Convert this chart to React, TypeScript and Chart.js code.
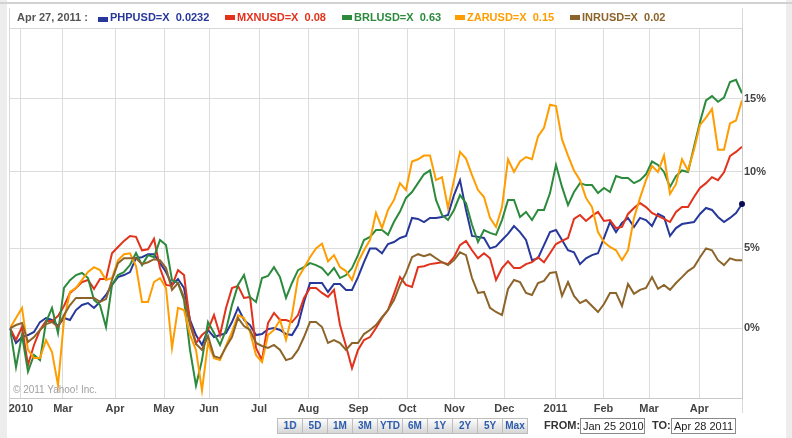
import React, { useEffect, useRef } from "react";
import { Chart, registerables } from "chart.js";

Chart.register(...registerables);

// Month ticks, in sample-index units along the x axis
const monthTickPos = [1.83, 8.83, 17.5, 25.67, 33.17, 41.5, 49.75, 58.08, 66.22, 74.08, 82.38, 90.92, 98.92, 106.5, 114.88];
const monthTickLabels = ["2010", "Mar", "Apr", "May", "Jun", "Jul", "Aug", "Sep", "Oct", "Nov", "Dec", "2011", "Feb", "Mar", "Apr"];

// Percent-change ticks (right axis)
const yTickPct = [0, 5, 10, 15];
const yTickLabels = ["0%", "5%", "10%", "15%"];

// Series: % change since Jan 25 2010, sampled evenly across the period
const phpusd = [
  0, -0.89, -0.53, -0.41, -0.22, 0.38, 0.63, 0.51, 0.14, 0.63,
  0.51, 1.12, 1.43, 1.55, 1.25, 1.62, 2.05, 2.68, 3.17, 3.30,
  3.49, 4.38, 4.43, 4.62, 4.62, 4.05, 3.49, 2.68, 3.05, 2.49,
  0.51, -0.41, -1.01, -0.1, -0.53, -0.41, -0.29, 0.38, 1.25, 0.51,
  0.2, -0.41, -0.35, -0.05, 0.02, -0.1, -0.35, -0.41, 0.2, 1.62,
  2.80, 2.80, 2.80, 2.24, 2.74, 2.74, 2.37, 2.37, 3.17, 4.11,
  4.99, 4.99, 4.68, 5.27, 5.40, 5.66, 5.79, 6.96, 6.89, 6.69,
  6.96, 6.96, 7.02, 7.15, 8.46, 9.45, 7.48, 5.79, 5.73, 5.66,
  4.99, 5.12, 5.53, 5.92, 6.43, 6.04, 5.53, 4.24, 4.36, 5.20,
  6.04, 6.17, 5.53, 4.87, 4.74, 3.99, 4.36, 4.56, 4.68, 5.66,
  6.69, 6.04, 6.63, 6.96, 6.37, 6.96, 6.82, 6.43, 7.22, 7.02,
  5.79, 6.30, 6.56, 6.63, 6.69, 7.22, 7.61, 7.48, 7.02, 6.69,
  6.96, 7.28, 7.87,
];

const mxnusd = [
  0, -0.71, 0.08, -2.21, -1.01, -0.1, 0.44, 0.44, 0.75, 1.37,
  2.18, 2.49, 2.86, 2.99, 2.43, 3.05, 3.05, 4.68, 5.08, 5.47,
  5.79, 5.73, 4.87, 4.93, 5.60, 3.74, 2.68, 2.62, 3.61, 3.30,
  0.38, -0.89, -0.41, -0.1, 0.81, -0.41, 1.25, 2.49, 2.62, 1.87,
  1.93, -1.19, -1.92, 0.32, 0.94, 0.51, 0.51, 0.38, 0.81, 1.87,
  2.49, 2.49, 2.18, 1.93, 2.37, 0.2, -1.07, -2.4, -1.31, -0.71,
  -0.53, 0.02, 0.63, 1.12, 2.12, 3.17, 2.68, 2.55, 3.80, 3.86,
  3.99, 4.05, 4.11, 3.99, 4.43, 5.20, 5.47, 4.87, 4.36, 4.68,
  4.36, 2.99, 3.74, 4.17, 3.74, 3.74, 3.99, 4.11, 4.43, 4.11,
  4.68, 5.27, 5.47, 5.66, 6.89, 7.15, 6.76, 7.09, 7.35, 6.76,
  6.82, 6.30, 6.37, 7.22, 7.61, 7.93, 7.67, 7.28, 7.09, 6.89,
  6.69, 7.35, 7.67, 7.67, 8.33, 8.93, 9.25, 9.65, 9.45, 9.97,
  11.07, 11.35, 11.7,
];

const brlusd = [
  0, -2.33, -0.41, -2.6, -1.61, -1.92, 0.38, 1.25, -0.29, 2.49,
  2.98, 3.30, 3.43, 3.11, 1.74, 1.43, 0.08, 2.68, 3.30, 3.49,
  3.93, 4.69, 3.93, 4.56, 4.43, 5.53, 5.21, 2.98, 2.80, 1.74,
  -1.31, -3.43, -1.92, 0.38, -0.29, -1.01, -0.1, 1.44, 2.68, 3.30,
  1.93, 1.62, 3.11, 3.24, 3.80, 3.17, 1.87, 2.80, 3.61, 3.80,
  4.05, 3.93, 3.74, 3.30, 3.74, 3.11, 3.30, 3.74, 4.56, 5.53,
  5.73, 6.17, 6.17, 5.86, 6.71, 7.37, 8.27, 8.66, 9.25, 9.84,
  10.1, 8.14, 7.15, 6.82, 7.48, 8.46, 7.93, 6.51, 5.40, 6.17,
  5.99, 5.86, 6.82, 8.14, 8.14, 7.02, 7.35, 6.82, 7.48, 7.48,
  8.59, 10.47, 9.0, 7.8, 8.66, 9.25, 9.12, 9.12, 8.59, 8.93,
  8.66, 9.72, 9.59, 9.59, 9.25, 9.45, 9.84, 10.7, 10.47, 10.0,
  9.0, 9.72, 10.1, 10.0, 11.7, 13.4, 14.9, 15.2, 14.8, 15.1,
  16.2, 16.35, 15.4,
];

const zarusd = [
  0, 0.63, 1.25, -1.31, -1.80, -1.80, -0.71, -1.43, -3.40, 0.51,
  2.24, 2.49, 2.99, 3.49, 3.80, 3.61, 2.99, 3.11, 4.24, 4.62,
  4.68, 3.86, 1.62, 1.62, 2.86, 3.11, 2.49, -1.19, 1.25, 1.12,
  -0.41, -1.31, -3.71, -0.89, -1.80, -1.92, -1.07, -0.22, 0.81, 0.63,
  -0.22, -1.62, -2.04, -0.41, -0.1, 0.51, -0.71, 0.81, 3.11, 3.74,
  4.43, 4.99, 5.30, 4.17, 4.56, 3.80, 3.55, 2.99, 4.11, 4.87,
  5.53, 7.28, 6.30, 7.48, 8.14, 9.25, 8.79, 10.7, 10.85, 11.1,
  11.1, 9.45, 9.65, 7.61, 9.45, 11.35, 10.9, 9.78, 8.79, 8.33,
  6.96, 6.37, 7.67, 10.85, 10.0, 10.7, 11.0, 10.85, 12.4, 13.0,
  14.6, 14.5, 12.2, 11.1, 10.1, 9.45, 8.27, 7.67, 6.04, 5.40,
  5.08, 4.87, 4.24, 4.87, 6.96, 8.27, 9.45, 10.4, 10.0, 11.1,
  8.53, 9.18, 10.85, 10.1, 11.5, 13.2, 13.7, 14.3, 11.5, 11.5,
  13.3, 13.5, 14.9,
];

const inrusd = [
  0, 0.2, 0.32, -0.83, -0.53, -0.1, 0.26, 0.38, 0.08, 0.81,
  1.43, 1.87, 1.87, 1.87, 1.87, 1.62, 1.80, 2.99, 4.05, 4.36,
  4.36, 4.36, 3.99, 4.11, 4.30, 4.24, 3.74, 2.37, 2.80, 1.93,
  0.2, -0.95, -1.31, -0.47, -1.68, -1.80, -1.13, -0.53, 0.63, 0.14,
  -0.1, -0.89, -1.07, -1.19, -1.01, -1.31, -1.92, -1.80, -1.31, -0.53,
  0.38, 0.38, 0.08, -0.89, -0.71, -0.89, -1.31, -0.89, -0.89, -0.35,
  -0.1, 0.2, 0.69, 1.12, 1.74, 2.68, 3.43, 4.43, 4.62, 4.49,
  4.62, 4.36, 4.11, 3.93, 4.24, 4.74, 4.56, 3.11, 2.18, 2.24,
  1.25, 1.0, 0.81, 2.43, 2.99, 2.86, 2.18, 2.05, 2.80, 2.93,
  3.43, 3.49, 1.99, 2.86, 1.99, 1.55, 1.74, 1.37, 1.0, 1.49,
  2.18, 2.18, 1.37, 2.74, 2.12, 2.37, 2.49, 3.17, 2.43, 2.68,
  2.37, 2.80, 3.17, 3.55, 3.80, 4.43, 4.99, 4.87, 4.24, 3.93,
  4.36, 4.24, 4.24,
];

const legendDate = "Apr 27, 2011 :";
const seriesNames = ["PHPUSD=X", "MXNUSD=X", "BRLUSD=X", "ZARUSD=X", "INRUSD=X"];
const seriesLast = ["0.0232", "0.08", "0.63", "0.15", "0.02"];
const seriesColors = ["#27389a", "#e2321b", "#2b8a3c", "#ff9d00", "#8c6429"];
const rangeButtons = ["1D", "5D", "1M", "3M", "YTD", "6M", "1Y", "2Y", "5Y", "Max"];
const fromDate = "Jan 25 2010";
const toDate = "Apr 28 2011";

const FONT = '"Liberation Sans", Arial, Helvetica, sans-serif';

export default function App() {
  const canvasRef = useRef<HTMLCanvasElement | null>(null);

  useEffect(() => {
    const canvas = canvasRef.current;
    if (!canvas) return;
    const toPts = (arr: number[]) => arr.map((v, i) => ({ x: i, y: 1 + v / 100 }));
    const all = [phpusd, mxnusd, brlusd, zarusd, inrusd];
    const lastIdx = phpusd.length - 1;
    const mk = (k: number) => ({
      label: seriesNames[k],
      data: toPts(all[k]),
      borderColor: seriesColors[k],
      backgroundColor: seriesColors[k],
      borderWidth: 2,
      pointRadius: k === 0 ? phpusd.map((_, i) => (i === lastIdx ? 3 : 0)) : 0,
      pointBackgroundColor: "#0c0c55",
      pointBorderWidth: 0,
      tension: 0,
      fill: false,
      clip: k === 0 ? false : undefined,
    });
    // first dataset is drawn on top
    const datasets = [mk(4), mk(3), mk(2), mk(1), mk(0)];

    const chart = new Chart(canvas, {
      type: "line",
      data: { datasets },
      options: {
        animation: false,
        responsive: false,
        events: [],
        layout: { padding: { left: 10, top: 29, right: 0, bottom: 0 } },
        plugins: { legend: { display: false }, tooltip: { enabled: false } },
        scales: {
          x: {
            type: "linear",
            min: 0,
            max: phpusd.length - 1,
            bounds: "data",
            afterFit: (s: any) => {
              s.height = 40;
            },
            afterBuildTicks: (s: any) => {
              s.ticks = monthTickPos.map((v) => ({ value: v }));
            },
            grid: { color: "#dcdcdc", lineWidth: 1, drawTicks: false },
            border: { display: true, color: "#c8c8c8", width: 1 },
            ticks: {
              autoSkip: false,
              maxRotation: 0,
              minRotation: 0,
              padding: 4,
              color: "#444",
              font: { family: FONT, size: 11, weight: "bold" },
              callback: (_v: any, i: number) => monthTickLabels[i],
            },
          },
          y: {
            type: "logarithmic",
            position: "right",
            min: 0.95842,
            max: 1.2001,
            bounds: "data",
            afterFit: (s: any) => {
              s.width = 50;
            },
            afterBuildTicks: (s: any) => {
              s.ticks = yTickPct.map((p) => ({ value: 1 + p / 100 }));
            },
            grid: { color: "#dcdcdc", lineWidth: 1, drawTicks: false },
            border: { display: true, color: "#c8c8c8", width: 1 },
            ticks: {
              padding: 2,
              color: "#444",
              font: { family: FONT, size: 11, weight: "bold" },
              callback: (_v: any, i: number) => yTickLabels[i],
            },
          },
        },
      } as any,
    });
    return () => chart.destroy();
  }, []);

  const legendX = [98, 225, 342, 455, 570];
  const btnStyle = (k: number): React.CSSProperties => ({
    position: "absolute",
    left: 277 + 25 * k,
    top: 418,
    width: 26,
    height: 16,
    boxSizing: "border-box",
    border: "1px solid #bdbdbd",
    background: "linear-gradient(#fdfdfd, #d6d6d6)",
    color: "#2d5cac",
    fontWeight: "bold",
    fontSize: 10,
    lineHeight: "14px",
    textAlign: "center",
  });

  return (
    <div
      style={{
        position: "absolute",
        left: 0,
        top: 0,
        width: 792,
        height: 438,
        background: "#fff",
        overflow: "hidden",
        fontFamily: FONT,
      }}
    >
      <div style={{ position: "absolute", left: 0, top: 0, width: 7, height: 438, background: "#ededed" }} />
      <div style={{ position: "absolute", left: 786, top: 0, width: 6, height: 438, background: "#ededed" }} />
      <div style={{ position: "absolute", left: 0, top: 2, width: 792, height: 2, background: "#d2d2d2" }} />
      <div
        style={{
          position: "absolute",
          left: 9,
          top: 8,
          width: 734,
          height: 405,
          boxSizing: "border-box",
          borderLeft: "1px solid #d8d8d8",
          borderRight: "1px solid #d8d8d8",
        }}
      />
      <div style={{ position: "absolute", left: 9, top: 28, width: 734, height: 1, background: "#d8d8d8" }} />

      <canvas
        ref={canvasRef}
        width={792}
        height={438}
        style={{ position: "absolute", left: 0, top: 0, width: 792, height: 438, display: "block" }}
      />

      <div
        style={{
          position: "absolute",
          left: 17,
          top: 12,
          fontSize: 11,
          lineHeight: "11px",
          fontWeight: "bold",
          color: "#555",
          whiteSpace: "pre",
        }}
      >
        {legendDate}
      </div>
      {seriesNames.map((name, k) => (
        <React.Fragment key={name}>
          <div
            style={{
              position: "absolute",
              left: legendX[k],
              top: k === 0 ? 17 : 15,
              width: 10,
              height: 5,
              background: seriesColors[k],
            }}
          />
          <div
            style={{
              position: "absolute",
              left: legendX[k] + 12,
              top: 12,
              fontSize: 11,
              lineHeight: "11px",
              fontWeight: "bold",
              color: seriesColors[k],
              whiteSpace: "pre",
            }}
          >
            {name + "  " + seriesLast[k]}
          </div>
        </React.Fragment>
      ))}

      <div
        style={{
          position: "absolute",
          left: 13,
          top: 385,
          fontSize: 10,
          lineHeight: "10px",
          color: "#a0a0a0",
          whiteSpace: "pre",
        }}
      >
        © 2011 Yahoo! Inc.
      </div>

      {rangeButtons.map((b, k) => (
        <div key={b} style={btnStyle(k)}>
          {b}
        </div>
      ))}

      <div
        style={{
          position: "absolute",
          left: 544,
          top: 420,
          fontSize: 11,
          lineHeight: "11px",
          fontWeight: "bold",
          color: "#333",
        }}
      >
        FROM:
      </div>
      <div
        style={{
          position: "absolute",
          left: 580,
          top: 418,
          width: 65,
          height: 16,
          boxSizing: "border-box",
          border: "1px solid #8a8a8a",
          fontSize: 11,
          lineHeight: "14px",
          paddingLeft: 2,
          color: "#222",
          whiteSpace: "pre",
        }}
      >
        {fromDate}
      </div>
      <div
        style={{
          position: "absolute",
          left: 652,
          top: 420,
          fontSize: 11,
          lineHeight: "11px",
          fontWeight: "bold",
          color: "#333",
        }}
      >
        TO:
      </div>
      <div
        style={{
          position: "absolute",
          left: 671,
          top: 418,
          width: 65,
          height: 16,
          boxSizing: "border-box",
          border: "1px solid #8a8a8a",
          fontSize: 11,
          lineHeight: "14px",
          paddingLeft: 2,
          color: "#222",
          whiteSpace: "pre",
        }}
      >
        {toDate}
      </div>
    </div>
  );
}
